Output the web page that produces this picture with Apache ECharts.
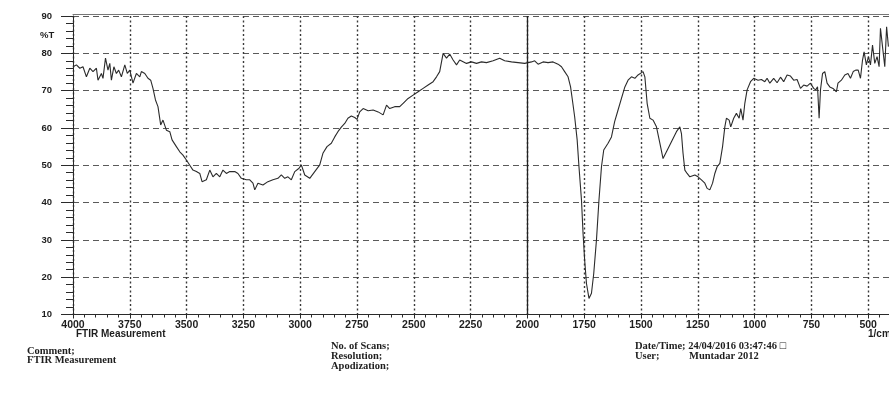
<!DOCTYPE html>
<html>
<head>
<meta charset="utf-8">
<script src="https://cdn.jsdelivr.net/npm/echarts@6/dist/echarts.min.js"></script>
<style>
  html, body { margin: 0; padding: 0; background: #ffffff; }
  #chart { width: 889px; height: 397px; }
</style>
</head>
<body>
<div id="chart"></div>
<script>
// FTIR spectrum: wavenumber (1/cm) and transmittance (%T)
const wavenumbers = [
  4000, 3985, 3970, 3956, 3941, 3926, 3912, 3897, 3890, 3875,
  3868, 3857, 3846, 3838, 3831, 3820, 3809, 3799, 3787, 3772,
  3761, 3750, 3736, 3721, 3706, 3699, 3684, 3670, 3658, 3648,
  3637, 3626, 3614, 3604, 3589, 3574, 3564, 3545, 3530, 3516,
  3501, 3486, 3472, 3457, 3442, 3432, 3413, 3398, 3384, 3369,
  3354, 3340, 3325, 3310, 3288, 3274, 3259, 3237,
  3222, 3208, 3200, 3186, 3164, 3142, 3120, 3098, 3083, 3068,
  3054, 3039, 3024, 3005, 2995, 2980, 2958, 2936, 2914, 2900,
  2882, 2863, 2848, 2834, 2819, 2804, 2790, 2775, 2760, 2750,
  2738, 2723, 2701, 2679, 2657, 2635, 2620, 2606, 2584, 2562,
  2547, 2525, 2503, 2481, 2459, 2437, 2415, 2400, 2386, 2378,
  2371, 2356, 2342, 2327, 2312, 2298,
  2290, 2268, 2246, 2224, 2202, 2180, 2151, 2122, 2100, 2070,
  2041, 2012, 1982, 1968, 1953, 1931, 1909, 1887, 1865, 1850,
  1836, 1821, 1810, 1802, 1792, 1781, 1773, 1762, 1755, 1748,
  1740, 1729, 1718, 1708, 1696, 1685, 1674, 1664, 1645, 1630,
  1616, 1601, 1586, 1571, 1557, 1542, 1527, 1513,
  1505, 1491, 1483, 1473, 1461, 1447, 1432, 1417, 1403, 1388,
  1366, 1344, 1329, 1322, 1315, 1307, 1297, 1285, 1263, 1249,
  1234, 1219, 1209, 1197, 1185, 1175, 1165, 1153, 1141, 1131,
  1124, 1112, 1105, 1092, 1080, 1068, 1061, 1051, 1043, 1033,
  1018, 1004, 985, 970, 955, 945, 933, 916, 901, 886,
  872, 857, 842, 828, 813, 798, 784, 769, 754, 740,
  731, 723, 716, 710, 701, 691, 681, 669, 655, 640,
  633, 618, 603, 589, 578, 566, 555, 544, 534, 525,
  518, 508, 499, 490, 481, 471, 461, 452, 446, 437,
  427, 419, 411
];

const transmittance = [
  76.4, 76.9, 76.0, 76.4, 73.7, 76.0, 75.1, 76.0, 72.8, 74.6,
  73.3, 78.7, 75.5, 77.3, 72.8, 76.4, 74.6, 75.5, 73.7, 76.9,
  74.6, 75.5, 72.0, 74.6, 73.7, 75.1, 74.6, 73.3, 72.8, 70.6,
  67.5, 65.7, 60.8, 62.1, 59.4, 59.0, 56.8, 55.0, 53.6, 52.7,
  51.4, 50.0, 48.7, 48.3, 47.8, 45.6, 46.1, 48.7, 46.9, 47.8,
  46.9, 48.7, 47.8, 48.3, 48.3, 47.8, 46.5, 46.1,
  46.1, 45.2, 43.4, 45.2, 44.7, 45.6, 46.1, 46.5, 47.4, 46.5,
  46.9, 46.1, 48.3, 49.2, 50.1, 47.4, 46.5, 48.3, 50.1, 53.2,
  55.0, 55.9, 57.6, 59.0, 60.2, 61.2, 62.6, 63.2, 62.8, 62.3,
  64.3, 65.2, 64.6, 64.8, 64.3, 63.5, 66.1, 65.2, 65.7, 65.7,
  66.6, 67.9, 68.8, 69.7, 70.6, 71.5, 72.4, 73.7, 75.1, 77.7,
  80.0, 78.7, 79.8, 78.2, 76.9, 78.2,
  77.7, 77.3, 77.7, 77.3, 77.7, 77.5, 78.0, 78.7, 78.0, 77.7,
  77.5, 77.3, 77.7, 78.0, 77.1, 77.7, 77.5, 77.7, 77.1, 76.4,
  75.1, 73.7, 71.0, 67.5, 63.0, 56.8, 49.6, 40.7, 31.7, 24.6,
  18.3, 14.3, 15.7, 21.0, 30.0, 40.7, 49.6, 54.1, 55.9, 57.6,
  61.7, 64.8, 67.9, 71.0, 72.8, 73.7, 73.3, 74.2,
  74.2, 75.1, 73.7, 66.6, 62.6, 62.1, 60.3, 55.9, 51.8, 53.6,
  56.3, 59.0, 60.3, 58.5, 53.2, 48.7, 47.8, 46.9, 47.4, 46.9,
  46.1, 45.2, 43.8, 43.4, 45.2, 47.8, 49.6, 50.5, 55.0, 60.3,
  62.6, 62.1, 60.3, 62.6, 63.9, 62.6, 65.2, 62.1, 66.6, 70.2,
  72.4, 73.3, 72.8, 73.0, 72.4, 73.3, 72.0, 73.3, 72.1, 73.6,
  72.4, 74.2, 73.9, 72.8, 73.0, 70.6, 71.5, 71.2, 72.0, 70.6,
  70.2, 71.0, 62.6, 70.2, 74.6, 75.1, 72.0, 71.0, 70.6, 69.7,
  72.0, 72.8, 74.2, 74.6, 73.3, 75.1, 75.5, 75.5, 73.3, 78.2,
  80.4, 76.9, 79.1, 76.9, 82.2, 77.3, 79.1, 76.4, 86.7, 81.8,
  76.4, 87.1, 81.8
];

// Axis ranges (the 250 end of the scale lies just past the right edge)
const xRange = { min: 250, max: 4000, step: 250 };
const yRange = { min: 10, max: 90, step: 10 };
const referenceLine = 2000;

// Header / footer texts
const yUnit = '%T';
const xTitle = 'FTIR Measurement';
const xUnit = '1/cm';
const commentLines = ['Comment;', 'FTIR Measurement'];
const scanLines = ['No. of Scans;', 'Resolution;', 'Apodization;'];
const dateLine = 'Date/Time; 24/04/2016 03:47:46 \u25A1';
const userLabel = 'User;';
const userName = 'Muntadar 2012';

const points = wavenumbers.map((w, i) => [w, transmittance[i]]);

const sans = "'Liberation Sans', Arial, sans-serif";
const serif = "'Liberation Serif', 'Times New Roman', serif";
const ink = '#1e1e1e';

function footerText(x, y, text) {
  return {
    type: 'text', left: x, top: y,
    style: { text: text, font: 'bold 10.5px ' + serif, fill: ink }
  };
}

const chart = echarts.init(document.getElementById('chart'), null, { renderer: 'canvas' });

chart.setOption({
  animation: false,
  backgroundColor: '#ffffff',
  grid: {
    left: 73, right: -36, top: 16, bottom: 82.5,
    containLabel: false, outerBoundsMode: 'none'
  },
  xAxis: [
    {
      type: 'value', inverse: true,
      min: xRange.min, max: xRange.max, interval: xRange.step,
      position: 'bottom',
      axisLine: { show: true, lineStyle: { color: '#2a2a2a', width: 1 } },
      axisTick: { show: true, length: 4, lineStyle: { color: '#2a2a2a' } },
      minorTick: { show: true, splitNumber: 5, length: 3, lineStyle: { color: '#2a2a2a' } },
      axisLabel: {
        margin: 5, color: ink, fontSize: 10.5, fontWeight: 'bold', fontFamily: sans,
        showMinLabel: false, showMaxLabel: true,
        formatter: (v) => (v === xRange.min ? '' : String(v))
      },
      splitLine: { show: true, lineStyle: { color: '#3a3a3a', type: [2, 2.5], width: 1.4 } }
    },
    {
      type: 'value', inverse: true,
      min: xRange.min, max: xRange.max,
      position: 'top', offset: 2,
      axisLine: { show: true, lineStyle: { color: '#777', width: 1 } },
      axisTick: { show: false }, axisLabel: { show: false }, splitLine: { show: false }
    }
  ],
  yAxis: {
    type: 'value',
    min: yRange.min, max: yRange.max, interval: yRange.step,
    axisLine: { show: true, lineStyle: { color: '#2a2a2a', width: 1 } },
    axisTick: { show: true, length: 12, lineStyle: { color: '#2a2a2a' } },
    minorTick: { show: true, splitNumber: 5, length: 7, lineStyle: { color: '#2a2a2a' } },
    axisLabel: { margin: 21, color: ink, fontSize: 9.5, fontWeight: 'bold', fontFamily: sans },
    splitLine: { show: true, lineStyle: { color: '#5a5a5a', type: [6, 4], width: 1 } }
  },
  series: [{
    type: 'line',
    xAxisIndex: 0,
    data: points,
    showSymbol: false,
    smooth: false,
    lineStyle: { color: '#2b2b2b', width: 1.1 },
    markLine: {
      silent: true,
      symbol: ['none', 'none'],
      label: { show: false },
      lineStyle: { color: '#222', type: 'solid', width: 1.3 },
      data: [{ xAxis: referenceLine }]
    }
  }],
  graphic: [
    { type: 'text', left: 40, top: 30, style: { text: yUnit, font: 'bold 9.5px ' + sans, fill: ink } },
    { type: 'text', left: 76, top: 329, style: { text: xTitle, font: 'bold 10px ' + sans, fill: ink } },
    { type: 'text', left: 868, top: 329, style: { text: xUnit, font: 'bold 10px ' + sans, fill: ink } },
    footerText(27, 346, commentLines[0]),
    footerText(27, 355, commentLines[1]),
    footerText(331, 341, scanLines[0]),
    footerText(331, 351, scanLines[1]),
    footerText(331, 361, scanLines[2]),
    footerText(635, 341, dateLine),
    footerText(635, 351, userLabel),
    footerText(689, 351, userName)
  ]
});
</script>
</body>
</html>
